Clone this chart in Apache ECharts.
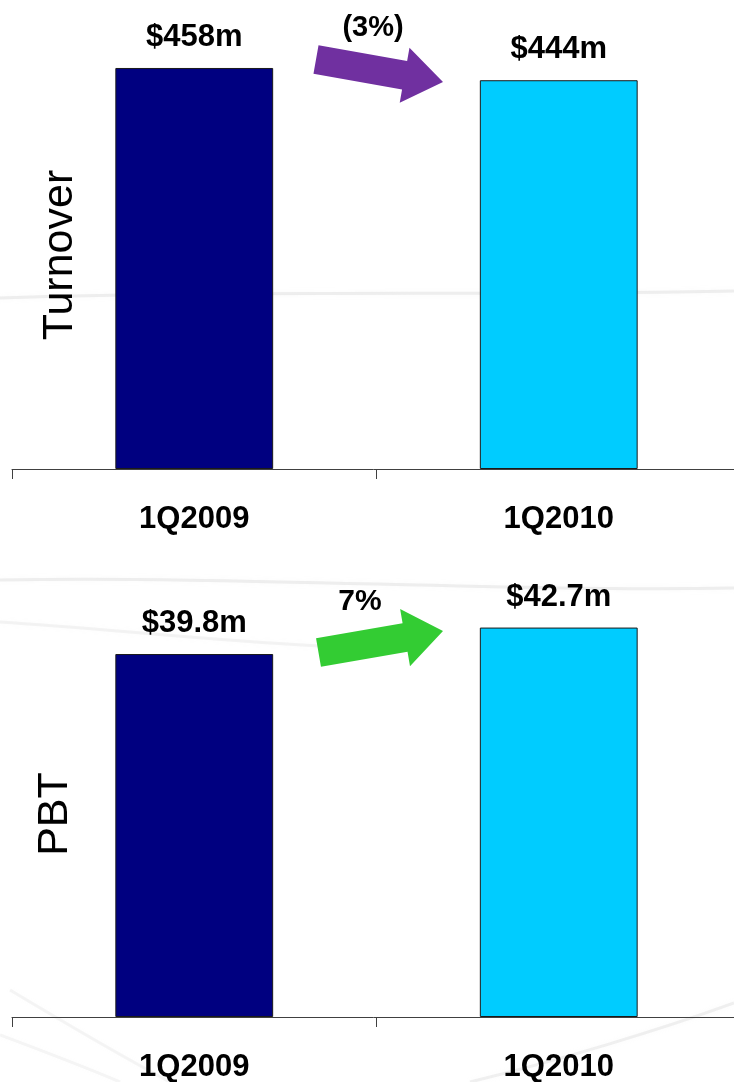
<!DOCTYPE html>
<html>
<head>
<meta charset="utf-8">
<script src="https://cdn.jsdelivr.net/npm/echarts@6/dist/echarts.min.js"></script>
<style>
  html, body { margin: 0; padding: 0; background: #ffffff; }
  #chart { width: 734px; height: 1082px; }
</style>
</head>
<body>
<div id="chart"></div>
<script>
// Quarter-on-quarter comparison: turnover and profit before tax
const categories = ['1Q2009', '1Q2010'];
const turnover = [458, 444];       // $m
const pbt = [39.8, 42.7];          // $m
const panelTitles = ['Turnover', 'PBT'];
const changeLabels = ['(3%)', '7%'];
const barColors = ['#000080', '#00CCFF'];

const FONT = "'Liberation Sans', Arial, sans-serif";

function barSeries(values, idx) {
  return {
    type: 'bar',
    xAxisIndex: idx,
    yAxisIndex: idx,
    barWidth: '43.3%',
    data: values.map((v, i) => ({
      value: v,
      itemStyle: { color: barColors[i], borderColor: '#1a1a1a', borderWidth: 1 }
    })),
    label: {
      show: true,
      position: 'top',
      distance: 15,
      formatter: p => '$' + p.value + 'm',
      fontFamily: FONT,
      fontWeight: 'bold',
      fontSize: 31,
      color: '#000000'
    },
    silent: true
  };
}

function categoryAxis(idx) {
  return {
    type: 'category',
    gridIndex: idx,
    data: categories,
    boundaryGap: true,
    axisLine: { show: true, lineStyle: { color: '#404040', width: 1 } },
    axisTick: { show: true, length: 10, lineStyle: { color: '#404040' } },
    axisLabel: {
      margin: 35,
      fontFamily: FONT,
      fontWeight: 'bold',
      fontSize: 31,
      color: '#000000'
    }
  };
}

function valueAxis(idx, max) {
  return {
    type: 'value',
    gridIndex: idx,
    min: 0,
    max: max,
    show: false,
    splitLine: { show: false }
  };
}

// Block arrow polygon from tail centre to tip
function arrowPoints(tail, tip, bodyW, headW, headL) {
  const dx = tip[0] - tail[0], dy = tip[1] - tail[1];
  const len = Math.hypot(dx, dy);
  const ux = dx / len, uy = dy / len;
  const nx = -uy, ny = ux;
  const bx = tip[0] - ux * headL, by = tip[1] - uy * headL;
  const hb = bodyW / 2, hh = headW / 2;
  return [
    [tail[0] + nx * hb, tail[1] + ny * hb],
    [bx + nx * hb, by + ny * hb],
    [bx + nx * hh, by + ny * hh],
    [tip[0], tip[1]],
    [bx - nx * hh, by - ny * hh],
    [bx - nx * hb, by - ny * hb],
    [tail[0] - nx * hb, tail[1] - ny * hb]
  ];
}

// Faint background swooshes
const swooshStyle = (w, c) => ({ stroke: c, lineWidth: w, fill: null, shadowBlur: 5, shadowColor: c });
const background = [
  { type: 'bezierCurve', z: -10, silent: true,
    shape: { x1: 0, y1: 298, cpx1: 250, cpy1: 290, cpx2: 500, cpy2: 296, x2: 734, y2: 291 },
    style: swooshStyle(3, 'rgba(210,210,210,0.35)') },
  { type: 'bezierCurve', z: -10, silent: true,
    shape: { x1: 0, y1: 580, cpx1: 250, cpy1: 576, cpx2: 500, cpy2: 592, x2: 734, y2: 588 },
    style: swooshStyle(3, 'rgba(210,210,210,0.35)') },
  { type: 'bezierCurve', z: -10, silent: true,
    shape: { x1: 0, y1: 622, cpx1: 100, cpy1: 628, cpx2: 200, cpy2: 640, x2: 320, y2: 646 },
    style: swooshStyle(3, 'rgba(210,210,210,0.25)') },
  { type: 'bezierCurve', z: -10, silent: true,
    shape: { x1: 10, y1: 990, cpx1: 60, cpy1: 1020, cpx2: 110, cpy2: 1050, x2: 170, y2: 1082 },
    style: swooshStyle(3, 'rgba(210,210,210,0.22)') },
  { type: 'bezierCurve', z: -10, silent: true,
    shape: { x1: 0, y1: 1035, cpx1: 40, cpy1: 1050, cpx2: 80, cpy2: 1065, x2: 120, y2: 1082 },
    style: swooshStyle(3, 'rgba(210,210,210,0.2)') },
  { type: 'bezierCurve', z: -10, silent: true,
    shape: { x1: 734, y1: 1003, cpx1: 660, cpy1: 1030, cpx2: 560, cpy2: 1060, x2: 470, y2: 1082 },
    style: swooshStyle(3, 'rgba(210,210,210,0.3)') }
];

// Rotated panel titles on the left
const titles = [
  { type: 'text', z: 100, silent: true, x: 60, y: 255, rotation: Math.PI / 2,
    style: { text: panelTitles[0], font: '43px ' + FONT, fill: '#000000', align: 'center', verticalAlign: 'middle' } },
  { type: 'text', z: 100, silent: true, x: 55, y: 814, rotation: Math.PI / 2,
    style: { text: panelTitles[1], font: '43px ' + FONT, fill: '#000000', align: 'center', verticalAlign: 'middle' } }
];

const arrows = [
  { type: 'polygon', z: 100, silent: true,
    shape: { points: arrowPoints([316, 59.5], [443, 82], 29, 56, 39) },
    style: { fill: '#7030A0' } },
  { type: 'text', z: 100, silent: true, x: 373, y: 28,
    style: { text: changeLabels[0], font: 'bold 29px ' + FONT, fill: '#000000', align: 'center', verticalAlign: 'middle' } },
  { type: 'polygon', z: 100, silent: true,
    shape: { points: arrowPoints([318.5, 652.5], [443, 631], 29, 58, 38.5) },
    style: { fill: '#33CC33' } },
  { type: 'text', z: 100, silent: true, x: 360, y: 602,
    style: { text: changeLabels[1], font: 'bold 30px ' + FONT, fill: '#000000', align: 'center', verticalAlign: 'middle' } }
];

const chart = echarts.init(document.getElementById('chart'), null, { renderer: 'canvas' });
chart.setOption({
  backgroundColor: '#ffffff',
  animation: false,
  grid: [
    { left: 12, width: 729, top: 31.2, height: 437.8, containLabel: false, outerBoundsMode: 'none' },
    { left: 12, width: 729, top: 561, height: 456, containLabel: false, outerBoundsMode: 'none' }
  ],
  xAxis: [categoryAxis(0), categoryAxis(1)],
  yAxis: [valueAxis(0, 500), valueAxis(1, 50)],
  series: [barSeries(turnover, 0), barSeries(pbt, 1)],
  graphic: background.concat(titles, arrows)
});
</script>
</body>
</html>
